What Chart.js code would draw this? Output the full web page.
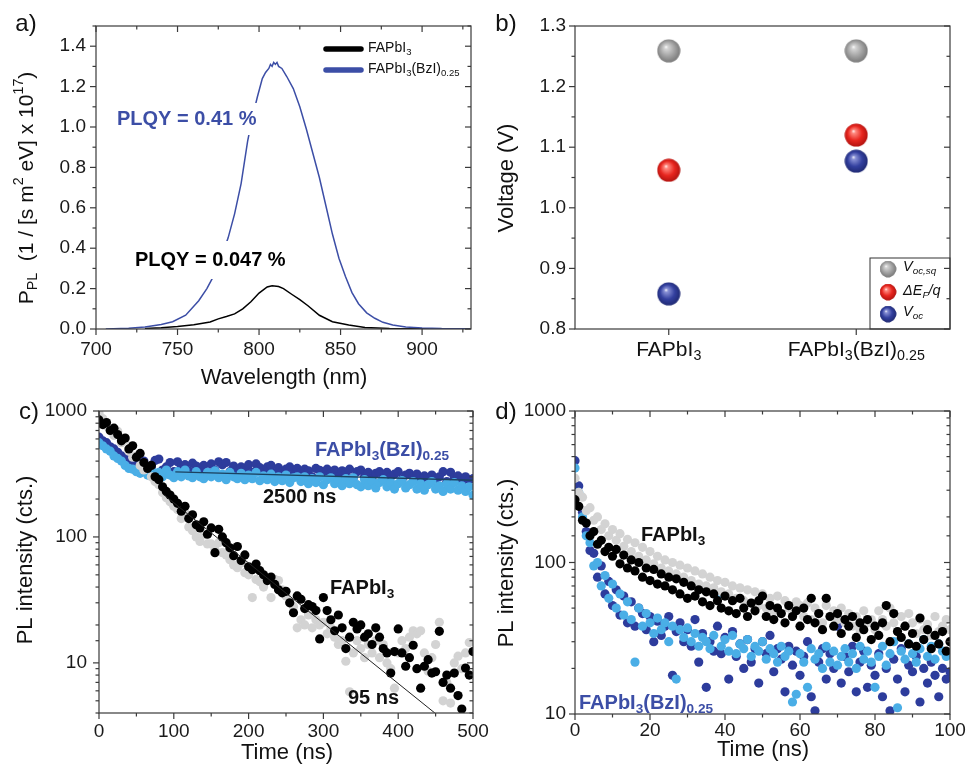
<!DOCTYPE html>
<html>
<head>
<meta charset="utf-8">
<script src="https://cdn.jsdelivr.net/npm/chart.js@4.4.1/dist/chart.umd.min.js"></script>
<style>
body { margin: 0; background: #fff; }
canvas { position: absolute; }
</style>
</head>
<body>
<canvas id="ca" width="484" height="390" style="left:0;top:0"></canvas>
<canvas id="cb" width="484" height="390" style="left:484px;top:0"></canvas>
<canvas id="cc" width="520" height="386" style="left:0;top:390px"></canvas>
<canvas id="cd" width="484" height="386" style="left:484px;top:390px"></canvas>
<script>
// a) PL spectra
const wlBlue = [706,720,730,740,747,755,763,768,772,776,781,785,789,793,796,799,802,804,806,807,808,809,810,811,812,814,817,821,825,829,833,837,841,845,849,853,857,861,866,871,876,882,890,900,912,930];
const plBlue = [0,0.004,0.01,0.022,0.036,0.068,0.14,0.2,0.26,0.34,0.45,0.57,0.72,0.93,1.05,1.15,1.24,1.27,1.29,1.31,1.30,1.32,1.31,1.32,1.30,1.29,1.25,1.19,1.10,0.99,0.87,0.75,0.61,0.47,0.35,0.26,0.18,0.125,0.08,0.053,0.033,0.02,0.01,0.005,0.002,0.001];
const wlBlack = [730,740,750,760,770,775,780,785,790,795,800,805,808,812,815,820,825,830,837,845,855,865,880,900,930];
const plBlack = [0.003,0.006,0.012,0.021,0.035,0.05,0.062,0.075,0.1,0.135,0.178,0.208,0.214,0.21,0.2,0.172,0.145,0.115,0.068,0.036,0.02,0.008,0.003,0.001,0];
const xTicksA = [700, 750, 800, 850, 900];
const yTicksA = [0, 0.2, 0.4, 0.6, 0.8, 1.0, 1.2, 1.4];

// b) voltages
const categoriesB = ['FAPbI_{3}', 'FAPbI_{3}(BzI)_{0.25}'];
const vocSq = [1.259, 1.259];
const deltaEF = [1.062, 1.12];
const voc = [0.858, 1.077];
const yTicksB = [0.8, 0.9, 1.0, 1.1, 1.2, 1.3];

// c) long time range TRPL
const tC = [0,5,10,15,20,25,30,35,40,45,50,55,60,65,70,75,80,85,90,95,100,105,110,115,120,125,130,135,140,145,150,155,160,165,170,175,180,185,190,195,200,205,210,215,220,225,230,235,240,245,250,255,260,265,270,275,280,285,290,295,300,305,310,315,320,325,330,335,340,345,350,355,360,365,370,375,380,385,390,395,400,405,410,415,420,425,430,435,440,445,450,455,460,465,470,475,480,485,490,495,500];
const cBlack = [850,780,810,700,730,650,580,610,500,530,
  430,460,390,350,370,300,285,250,230,215,
  200,185,160,175,140,150,125,118,132,105,
  118,75,115,100,90,82,71,84,65,72,
  58,55,61,54,50,45,48,42,38,36,
  37,30,25,34,32,27,29,28,26,15.5,
  33,26,22,18,24,19,13,16,21,18.6,
  20,16,17,14,19,16,13,12,8.3,12.3,
  18.6,12,9.4,11,13.8,9,6.3,9.4,10.6,8.3,
  8.5,17.8,7,8,6.3,8.3,5.5,4.3,9.1,8,
  12.3];
const cGray = [960,870,760,720,640,690,560,590,480,430,
  440,370,340,360,300,275,260,225,205,190,
  175,165,140,155,120,112,100,92,104,88,
  88,80,90,75,72,66,60,57,62,52,
  50,33,46,44,40,47,33,46,45,38,
  34,30,28,19,22,20,24,19,22,20,
  21,17,19,16,14,15,10.3,5.9,12,15,
  13,11,14,12,15,11,14,10,9,6.3,
  12,15,13,16,18,17,18,12,8.6,11,
  14,21,5,7,4.8,10,11.3,9,12,14.5,
  8];
const cDarkBlue = [620,580,560,520,500,470,440,420,400,390,
  380,370,400,345,360,405,415,340,360,390,
  330,395,360,375,335,385,365,345,370,325,
  380,340,395,375,390,330,365,340,360,350,
  375,325,380,355,335,360,370,320,355,330,
  345,360,315,350,325,345,335,300,350,338,
  310,345,320,340,300,335,325,345,295,330,
  340,300,325,290,320,330,295,325,300,315,
  330,285,310,320,300,316,280,305,295,310,
  290,300,330,275,326,295,305,270,300,285,
  290];
const cLightBlue = [560,530,500,480,440,420,400,370,350,345,
  330,320,345,310,335,305,325,300,340,310,
  295,330,300,340,305,295,330,300,290,325,
  300,335,295,315,285,325,300,290,320,285,
  310,290,325,280,305,285,315,275,300,280,
  310,270,295,300,275,300,265,290,270,300,
  260,285,295,265,280,255,290,265,295,260,
  250,285,255,275,245,270,285,250,270,240,
  265,280,245,260,275,240,265,235,260,275,
  240,255,230,265,240,270,235,255,230,250,
  215];
const fitFastT = [86, 449];
const fitFastY = [218, 4];
const fitSlowT = [102, 500];
const fitSlowY = [328, 282];
const xTicksC = [0, 100, 200, 300, 400, 500];

// d) short time range TRPL
const tD = [0,1,2,3,4,5,6,7,8,9,10,11,12,13,14,15,16,17,18,19,20,21,22,23,24,25,26,27,28,29,30,31,32,33,34,35,36,37,38,39,40,41,42,43,44,45,46,47,48,49,50,51,52,53,54,55,56,57,58,59,60,61,62,63,64,65,66,67,68,69,70,71,72,73,74,75,76,77,78,79,80,81,82,83,84,85,86,87,88,89,90,91,92,93,94,95,96,97,98,99,100];
const dBlack = [260,235,190,182,150,160,132,140,118,126,
  110,122,98,112,92,104,88,100,80,92,
  76,90,72,84,70,80,66,78,62,74,
  58,70,60,66,55,64,52,62,56,50,
  60,48,56,46,58,50,44,54,48,56,
  60,44,52,42,50,46,40,52,44,48,
  38,50,42,58,40,46,36,58,44,38,
  46,34,42,38,44,32,40,36,42,31,
  38,33,40,52,30,46,35,32,38,29,
  34,28,43,31,36,27,33,29,35,26,
  30];
const dGray = [360,290,270,220,230,190,200,165,180,150,
  165,140,155,128,142,118,135,110,126,104,
  118,98,110,92,104,88,100,84,96,80,
  92,76,88,72,84,70,80,68,76,64,
  74,62,70,58,68,56,66,54,64,52,
  62,50,58,48,60,46,56,50,44,55,
  52,44,54,42,50,46,40,52,44,48,
  42,50,40,46,38,44,36,48,40,42,
  36,48,42,38,50,40,35,44,38,46,
  40,34,42,36,39,33,44,35,38,42,
  36];
const dDarkBlue = [470,320,215,160,120,115,80,95,62,75,
  52,66,45,60,40,55,38,50,46,36,
  44,30,41,33,38,44,18,35,40,30,
  36,28,42,22,34,15,30,26,38,25,
  32,17,35,24,29,20,31,22,27,16,
  30,25,33,19,27,23,14,28,21,26,
  18,24,30,13,10.5,22,27,17,25,20,
  38,16,24,19,28,14,22,26,15,21,
  18,25,13,20,10.5,23,17,27,14,21,
  19,24,12,20,16,22,18,13,20,17,
  19];
const dLightBlue = [420,290,200,150,135,95,100,70,82,58,
  72,50,62,45,55,42,22,50,38,46,
  40,34,43,36,40,30,38,17,36,32,
  37,30,34,28,32,30,27,33,60,28,
  31,26,33,25,29,27,31,24,28,26,
  30,23,27,25,22,28,24,26,12,13.5,
  25,22,15,27,23,25,20,28,22,26,
  21,24,27,22,25,20,28,23,26,22,
  15,24,28,21,25,30,11,26,23,29,
  25,22,27,31,24,28,23,29,26,24,
  25];
const xTicksD = [0, 20, 40, 60, 80, 100];

const FONT = '"Liberation Sans", Arial, Helvetica, sans-serif';
const BLUE = '#3c4ea6';
const DARKBLUE = '#2d3c9c';
const LIGHTBLUE = '#4aaee6';
const GRAY = '#d3d3d3';
Chart.defaults.font.family = FONT;
Chart.defaults.color = '#1a1a1a';

function pts(xs, ys) {
  return ys.map((y, i) => ({ x: xs[i], y: y }));
}

function isPow10(v) {
  const l = Math.log10(v);
  return Math.abs(l - Math.round(l)) < 1e-9;
}

// text with _{sub} and ^{sup}
function rich(ctx, str, x, y, o) {
  const size = o.size || 18;
  const parts = [];
  const re = /_\{([^}]*)\}|\^\{([^}]*)\}|([^_^]+)/g;
  let m;
  while ((m = re.exec(str))) {
    if (m[1] !== undefined) parts.push({ t: m[1], s: 0.68, dy: 0.3 });
    else if (m[2] !== undefined) parts.push({ t: m[2], s: 0.68, dy: -0.38 });
    else parts.push({ t: m[3], s: 1, dy: 0 });
  }
  const font = s => (o.italic ? 'italic ' : '') + (o.bold ? 'bold ' : '') + (size * s) + 'px ' + FONT;
  let w = 0;
  parts.forEach(p => { ctx.font = font(p.s); p.w = ctx.measureText(p.t).width; w += p.w; });
  let x0 = o.align === 'center' ? x - w / 2 : o.align === 'right' ? x - w : x;
  if (o.bg) {
    ctx.fillStyle = o.bg;
    ctx.fillRect(x0 - (o.padX || 2), y - size * 0.5 - (o.padY || 2), w + 2 * (o.padX || 2), size + 2 * (o.padY || 2));
  }
  ctx.fillStyle = o.color || '#111';
  ctx.textBaseline = 'middle';
  ctx.textAlign = 'left';
  parts.forEach(p => { ctx.font = font(p.s); ctx.fillText(p.t, x0, y + p.dy * size); x0 += p.w; });
}

function tickSets(s) {
  const vals = s.ticks.map(t => t.value);
  if (s.type === 'category') return [vals, []];
  if (s.type === 'logarithmic') return [vals.filter(isPow10), vals.filter(v => !isPow10(v))];
  const step = vals[1] - vals[0];
  const minor = [];
  vals.forEach(v => [v - step / 2, v + step / 2].forEach(q => {
    if (q >= s.min - 1e-9 && q <= s.max + 1e-9 && !minor.some(r => Math.abs(r - q) < 1e-9)) minor.push(q);
  }));
  return [vals, minor];
}

// box round the plot, ticks out on left/bottom, in on top/right
function makeFrame(top) {
  return {
    id: 'frame',
    afterDraw(chart) {
      const { ctx, chartArea: a } = chart;
      const x = chart.scales.x, y = chart.scales.y;
      const [xM, xm] = tickSets(x), [yM, ym] = tickSets(y);
      ctx.save();
      ctx.strokeStyle = '#3a3a3a';
      ctx.lineWidth = 1.2;
      ctx.strokeRect(a.left, a.top, a.right - a.left, a.bottom - a.top);
      const seg = (x1, y1, x2, y2) => { ctx.beginPath(); ctx.moveTo(x1, y1); ctx.lineTo(x2, y2); ctx.stroke(); };
      [[xM, 6], [xm, 3.5]].forEach(([vs, L]) => vs.forEach(v => {
        const p = x.getPixelForValue(v);
        seg(p, a.bottom, p, a.bottom + L);
        if (top) seg(p, a.top, p, a.top + L);
      }));
      [[yM, 6], [ym, 3.5]].forEach(([vs, L]) => vs.forEach(v => {
        const p = y.getPixelForValue(v);
        seg(a.left - L, p, a.left, p);
        seg(a.right - L, p, a.right, p);
      }));
      ctx.restore();
    }
  };
}

function makeNotes(items) {
  return {
    id: 'notes',
    afterDraw(chart) {
      const ctx = chart.ctx;
      items.forEach(it => {
        ctx.save();
        if (it.seg) {
          ctx.strokeStyle = it.color; ctx.lineWidth = it.width; ctx.lineCap = 'round';
          ctx.beginPath(); ctx.moveTo(it.seg[0], it.seg[1]); ctx.lineTo(it.seg[2], it.seg[3]); ctx.stroke();
        } else if (it.rect) {
          ctx.strokeStyle = '#333'; ctx.lineWidth = 1;
          ctx.strokeRect(it.rect[0], it.rect[1], it.rect[2], it.rect[3]);
        } else if (it.img) {
          ctx.drawImage(it.img, it.x - it.d / 2, it.y - it.d / 2, it.d, it.d);
        } else if (it.rot) {
          ctx.translate(it.x, it.y); ctx.rotate(-Math.PI / 2);
          rich(ctx, it.text, 0, 0, Object.assign({}, it, { align: 'center' }));
        } else {
          rich(ctx, it.text, it.x, it.y, it);
        }
        ctx.restore();
      });
    }
  };
}

function axis(size, o) {
  return Object.assign({
    grid: { display: false, drawTicks: false },
    border: { display: false }
  }, o, {
    ticks: Object.assign({ font: { size: 19 }, color: '#1a1a1a', autoSkip: false, maxRotation: 0 }, o.ticks || {}),
    afterFit(s) {
      if (s.isHorizontal()) { s.height = size; s.paddingLeft = 0; s.paddingRight = 0; }
      else { s.width = size; s.paddingTop = 0; s.paddingBottom = 0; }
    }
  });
}

function fixedTicks(list) {
  return s => { s.ticks = list.map(v => ({ value: v })); };
}

function sphere(c0, c1, c2, d) {
  const cv = document.createElement('canvas');
  cv.width = cv.height = d;
  const g = cv.getContext('2d');
  const gr = g.createRadialGradient(d * 0.38, d * 0.33, 0, d * 0.5, d * 0.5, d * 0.55);
  gr.addColorStop(0, '#ffffff');
  gr.addColorStop(0.14, c0);
  gr.addColorStop(0.55, c1);
  gr.addColorStop(1, c2);
  g.fillStyle = gr;
  g.beginPath(); g.arc(d / 2, d / 2, d / 2 - 0.5, 0, Math.PI * 2); g.fill();
  return cv;
}

const common = { animation: false, responsive: false, events: [] };
const noPlug = { legend: { display: false }, tooltip: { enabled: false } };

// ---------- a ----------
new Chart('ca', {
  type: 'scatter',
  data: {
    datasets: [
      { data: pts(wlBlue, plBlue), showLine: true, borderColor: BLUE, borderWidth: 1.5, pointRadius: 0 },
      { data: pts(wlBlack, plBlack), showLine: true, borderColor: '#000', borderWidth: 1.5, pointRadius: 0 }
    ]
  },
  options: Object.assign({}, common, {
    layout: { padding: { top: 26, right: 13, left: 0, bottom: 0 } },
    plugins: noPlug,
    scales: {
      x: axis(61, { type: 'linear', min: 700, max: 930, ticks: { padding: 9 }, afterBuildTicks: fixedTicks(xTicksA) }),
      y: axis(96, { min: 0, max: 1.5, ticks: { padding: 10, callback: v => v.toFixed(1) }, afterBuildTicks: fixedTicks(yTicksA) })
    }
  }),
  plugins: [makeFrame(true), makeNotes([
    { text: 'a)', x: 26, y: 24, size: 24, align: 'center' },
    { text: 'P_{PL}  (1 / [s m^{2} eV] x 10^{17})', x: 27, y: 188, size: 21, rot: true },
    { text: 'Wavelength (nm)', x: 284, y: 378, size: 22, align: 'center' },
    { text: 'PLQY = 0.41 %', x: 117, y: 119, size: 20, bold: true, color: BLUE, bg: '#fff', padX: 3, padY: 6 },
    { text: 'PLQY = 0.047 %', x: 135, y: 260, size: 20, bold: true, color: '#000', bg: '#fff', padX: 3, padY: 9 },
    { seg: [326, 49, 361, 49], color: '#000', width: 5.5 },
    { seg: [326, 70, 361, 70], color: BLUE, width: 5.5 },
    { text: 'FAPbI_{3}', x: 368, y: 48, size: 14 },
    { text: 'FAPbI_{3}(BzI)_{0.25}', x: 368, y: 69, size: 14 }
  ])]
});

// ---------- b ----------
const sphGray = sphere('#d5d5d5', '#a3a3a3', '#6f6f6f', 24);
const sphRed = sphere('#ff8a80', '#e8261f', '#a50f0c', 24);
const sphBlue = sphere('#8a92d6', '#33409f', '#1b2468', 24);
new Chart('cb', {
  type: 'line',
  data: {
    labels: categoriesB,
    datasets: [
      { data: vocSq, showLine: false, pointStyle: sphGray, pointRadius: 12 },
      { data: deltaEF, showLine: false, pointStyle: sphRed, pointRadius: 12 },
      { data: voc, showLine: false, pointStyle: sphBlue, pointRadius: 12 }
    ]
  },
  options: Object.assign({}, common, {
    layout: { padding: { top: 26, right: 18, left: 0, bottom: 0 } },
    plugins: noPlug,
    scales: {
      x: axis(61, { type: 'category', offset: true, ticks: { callback: () => '' } }),
      y: axis(91, { min: 0.8, max: 1.3, ticks: { padding: 9, callback: v => v.toFixed(1) }, afterBuildTicks: fixedTicks(yTicksB) })
    }
  }),
  plugins: [makeFrame(false), {
    id: 'cats',
    afterDraw(chart) {
      const x = chart.scales.x;
      categoriesB.forEach((c, i) => rich(chart.ctx, c, x.getPixelForValue(i), chart.chartArea.bottom + 21, { size: 21, align: 'center' }));
    }
  }, makeNotes([
    { text: 'b)', x: 22, y: 24, size: 24, align: 'center' },
    { text: 'Voltage (V)', x: 23, y: 178, size: 22, rot: true },
    { rect: [386, 258, 80, 71] },
    { img: sphGray, x: 404, y: 269, d: 17 },
    { img: sphRed, x: 404, y: 292, d: 17 },
    { img: sphBlue, x: 404, y: 314, d: 17 },
    { text: 'V_{oc,sq}', x: 419, y: 267, size: 14.5, italic: true },
    { text: '\u0394E_{F}/q', x: 419, y: 291, size: 14.5, italic: true },
    { text: 'V_{oc}', x: 419, y: 312, size: 14.5, italic: true }
  ])]
});

// ---------- c ----------
new Chart('cc', {
  type: 'scatter',
  data: {
    datasets: [
      { data: pts(fitFastT, fitFastY), showLine: true, borderColor: '#222', borderWidth: 1, pointRadius: 0 },
      { data: pts(fitSlowT, fitSlowY), showLine: true, borderColor: '#1c4260', borderWidth: 1.3, pointRadius: 0 },
      { data: pts(tC, cBlack), backgroundColor: '#000', pointRadius: 4.6, borderWidth: 0 },
      { data: pts(tC, cGray), backgroundColor: GRAY, pointRadius: 4.6, borderWidth: 0 },
      { data: pts(tC, cLightBlue), backgroundColor: LIGHTBLUE, pointRadius: 4.6, borderWidth: 0 },
      { data: pts(tC, cDarkBlue), backgroundColor: DARKBLUE, pointRadius: 4.6, borderWidth: 0 }
    ]
  },
  options: Object.assign({}, common, {
    layout: { padding: { top: 21, right: 47, left: 0, bottom: 0 } },
    plugins: noPlug,
    scales: {
      x: axis(63, { type: 'linear', min: 0, max: 500, ticks: { padding: 7 }, afterBuildTicks: fixedTicks(xTicksC) }),
      y: axis(99, { type: 'logarithmic', min: 4, max: 1000, ticks: { padding: 12, callback: v => isPow10(v) ? String(v) : '' } })
    }
  }),
  plugins: [makeFrame(true), makeNotes([
    { text: 'c)', x: 29, y: 22, size: 24, align: 'center' },
    { text: 'PL intensity (cts.)', x: 26, y: 170, size: 22, rot: true },
    { text: 'Time (ns)', x: 287, y: 363, size: 22, align: 'center' },
    { text: 'FAPbI_{3}(BzI)_{0.25}', x: 315, y: 60, size: 20, bold: true, color: BLUE },
    { text: '2500 ns', x: 263, y: 107, size: 20, bold: true, color: '#111' },
    { text: 'FAPbI_{3}', x: 330, y: 198, size: 20, bold: true, color: '#111' },
    { text: '95 ns', x: 348, y: 308, size: 20, bold: true, color: '#111' }
  ])]
});

// ---------- d ----------
new Chart('cd', {
  type: 'scatter',
  data: {
    datasets: [
      { data: pts(tD, dBlack), backgroundColor: '#000', pointRadius: 4.6, borderWidth: 0 },
      { data: pts(tD, dGray), backgroundColor: GRAY, pointRadius: 4.6, borderWidth: 0 },
      { data: pts(tD, dLightBlue), backgroundColor: LIGHTBLUE, pointRadius: 4.6, borderWidth: 0 },
      { data: pts(tD, dDarkBlue), backgroundColor: DARKBLUE, pointRadius: 4.6, borderWidth: 0 }
    ]
  },
  options: Object.assign({}, common, {
    layout: { padding: { top: 21, right: 18, left: 0, bottom: 0 } },
    plugins: noPlug,
    scales: {
      x: axis(62, { type: 'linear', min: 0, max: 100, ticks: { padding: 5 }, afterBuildTicks: fixedTicks(xTicksD) }),
      y: axis(91, { type: 'logarithmic', min: 10, max: 1000, ticks: { padding: 9, callback: v => isPow10(v) ? String(v) : '' } })
    }
  }),
  plugins: [makeFrame(true), makeNotes([
    { text: 'd)', x: 22, y: 22, size: 24, align: 'center' },
    { text: 'PL intensity (cts.)', x: 23, y: 173, size: 22, rot: true },
    { text: 'Time (ns)', x: 279, y: 360, size: 22, align: 'center' },
    { text: 'FAPbI_{3}', x: 157, y: 145, size: 20, bold: true, color: '#111' },
    { text: 'FAPbI_{3}(BzI)_{0.25}', x: 95, y: 313, size: 20, bold: true, color: BLUE }
  ])]
});
</script>
</body>
</html>
